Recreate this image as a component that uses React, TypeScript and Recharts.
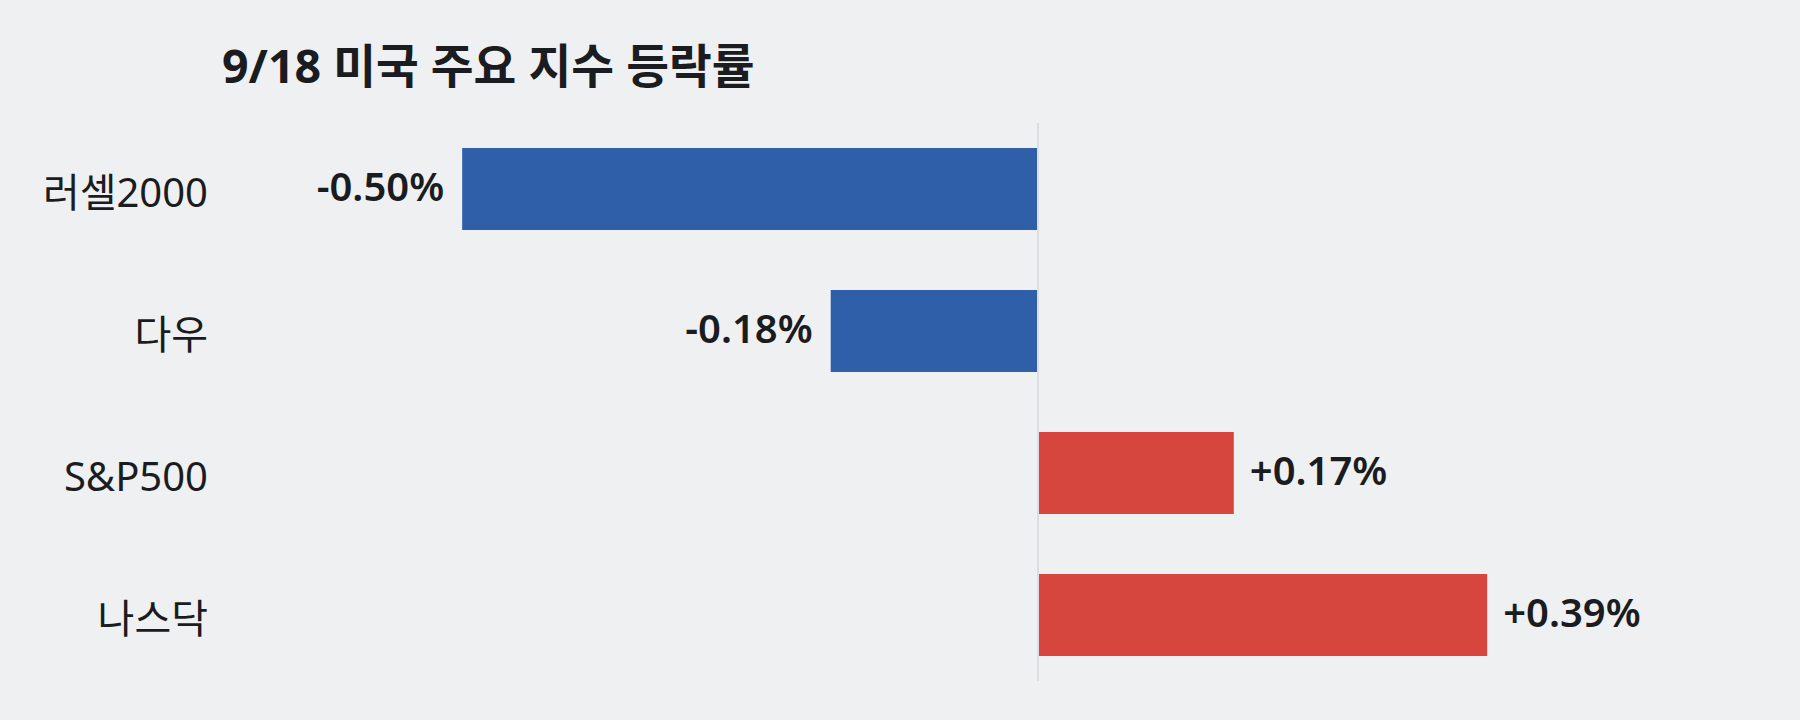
import React from 'react';
import { BarChart, Bar, XAxis, YAxis, ReferenceLine, LabelList, Cell } from 'recharts';

const categories = ['러셀2000', '다우', 'S&P500', '나스닥'];
const changes = [-0.5, -0.18, 0.17, 0.39];
const valueLabels = ['-0.50%', '-0.18%', '+0.17%', '+0.39%'];
const title = '9/18 미국 주요 지수 등락률';

const data = categories.map((name, i) => ({ name, value: changes[i], label: valueLabels[i] }));

const FONT = '"Noto Sans", "Noto Sans CJK KR", sans-serif';
const BLUE = '#2e5fa8';
const RED = '#d6463f';
const TEXT = '#1a1c20';

const AxisTick = (props: any) => {
  const { x, y, payload } = props;
  return (
    <text x={x} y={y + 18} textAnchor="end" fontFamily={FONT} fontSize={40} fill={TEXT}>
      {payload.value}
    </text>
  );
};

const ValueLabel = (props: any) => {
  const { x, y, width, height, index } = props;
  const left = Math.min(x, x + width);
  const right = Math.max(x, x + width);
  const v = changes[index];
  const cy = y + height / 2;
  const neg = v < 0;
  return (
    <text
      x={neg ? left - 18 : right + 16}
      y={cy + 12}
      textAnchor={neg ? 'end' : 'start'}
      fontFamily={FONT}
      fontSize={40}
      fontWeight={600}
      fill={TEXT}
    >
      {valueLabels[index]}
    </text>
  );
};

const ZeroLine = (props: any) => {
  const { x1, y1, x2, y2 } = props;
  const top = Math.min(y1, y2);
  const bottom = Math.max(y1, y2);
  return <line x1={x1} y1={top + 5} x2={x2} y2={bottom - 5} stroke="#dcdde0" strokeWidth={2} />;
};

export default function App() {
  return (
    <div style={{ position: 'absolute', left: 0, top: 0, width: 1800, height: 720, background: '#eff0f2' }}>
      <div
        style={{
          position: 'absolute',
          left: 222,
          top: 30,
          fontFamily: FONT,
          fontWeight: 700,
          fontSize: 46.5,
          color: TEXT,
          lineHeight: '70px',
          whiteSpace: 'nowrap',
        }}
      >
        {title}
      </div>
      <BarChart
        width={1800}
        height={720}
        data={data}
        layout="vertical"
        margin={{ top: 118, right: 71, bottom: 34, left: 0 }}
        barSize={82}
      >
        <XAxis type="number" domain={[-0.6, 0.6]} hide />
        <YAxis
          type="category"
          dataKey="name"
          width={347}
          axisLine={false}
          tickLine={false}
          tick={(p: any) => <AxisTick {...p} x={208} />}
          interval={0}
        />
        <ReferenceLine x={0} shape={(p: any) => <ZeroLine {...p} />} />
        <Bar dataKey="value" isAnimationActive={false}>
          {data.map((d, i) => (
            <Cell key={i} fill={d.value < 0 ? BLUE : RED} />
          ))}
          <LabelList dataKey="label" content={(p: any) => <ValueLabel {...p} />} />
        </Bar>
      </BarChart>
    </div>
  );
}
